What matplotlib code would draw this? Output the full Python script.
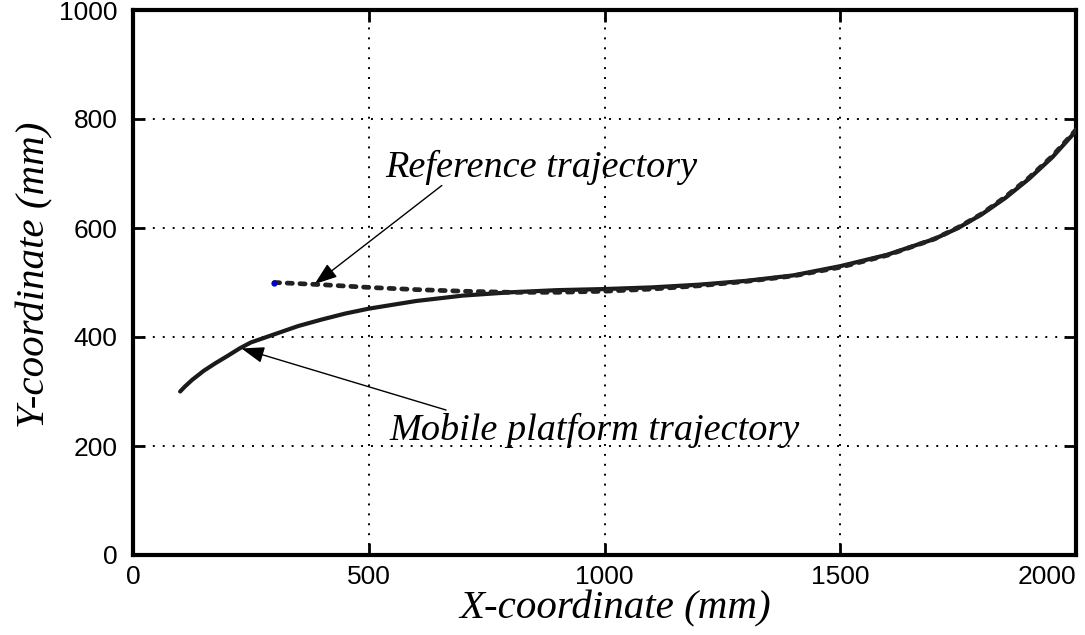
import matplotlib
matplotlib.use("Agg")
import matplotlib.pyplot as plt

# ---- data (mm) ----
platform_x = [100, 110, 125, 150, 175, 200, 226, 250, 300, 350, 400, 450, 500, 600, 700, 800,
              900, 1000, 1100, 1200, 1300, 1400, 1500, 1600, 1700, 1750, 1800, 1850, 1900, 1950, 2000]
platform_y = [300, 309, 321, 338, 352, 365, 379, 390, 405, 420, 432, 443, 452, 466, 476, 482,
              486, 488, 491, 496, 503, 513, 530, 551, 580, 600, 625, 655, 690, 730, 778]

reference_x = [300, 400, 500, 600, 700, 800, 900, 1000, 1100, 1200, 1300, 1400, 1500, 1600,
               1700, 1750, 1800, 1850, 1900, 1950, 2000]
reference_y = [500, 496, 491, 487, 484, 482, 482, 484, 488, 494, 502, 512, 528, 550,
               580, 601, 626, 657, 692, 732, 780]

x_ticks = [0, 500, 1000, 1500, 2000]
y_ticks = [0, 200, 400, 600, 800, 1000]

fig = plt.figure(figsize=(10.85, 6.35), dpi=100)
ax = fig.add_axes([133/1085, 80/635, (1076-133)/1085, (555-10)/635])

serif = ["Liberation Serif", "DejaVu Serif"]
sans = ["Liberation Sans", "DejaVu Sans"]

ax.plot(platform_x, platform_y, color="#1a1a1a", lw=3.0, solid_capstyle="round", zorder=3)
ax.plot(reference_x, reference_y, color="#222222", lw=3.4, linestyle=(0, (1.1, 1.6)),
        dash_capstyle="round", zorder=4)
ax.plot([reference_x[0]], [reference_y[0]], marker="o", ms=3.5, color="#0000cc", zorder=5)

ax.set_xlim(0, 2000)
ax.set_ylim(0, 1000)
ax.set_xticks(x_ticks)
ax.set_yticks(y_ticks)
ax.set_xticklabels([str(v) for v in x_ticks], fontfamily=sans, fontsize=19)
ax.set_yticklabels([str(v) for v in y_ticks], fontfamily=sans, fontsize=19)
ax.get_xticklabels()[-1].set_horizontalalignment("right")

ax.tick_params(direction="in", length=8.5, width=2, top=True, right=True)
ax.tick_params(axis="x", pad=7)
ax.tick_params(axis="y", pad=11)

for s in ax.spines.values():
    s.set_linewidth(3.0)

ax.grid(True, color="black", linestyle=(0, (1, 4.1)), linewidth=1.4)
ax.set_axisbelow(True)

ax.set_xlabel("X-coordinate (mm)", fontfamily=serif, fontstyle="italic", fontsize=29.5)
ax.set_ylabel("Y-coordinate (mm)", fontfamily=serif, fontstyle="italic", fontsize=29.5)
ax.xaxis.set_label_coords((615-133)/943, -(609-555)/545)
ax.yaxis.set_label_coords(-(133-35)/943, (555-275)/545)
ax.xaxis.label.set_verticalalignment("center")
ax.yaxis.label.set_verticalalignment("center")

arrow = dict(arrowstyle="-|>,head_length=1.4,head_width=0.5", color="black", lw=1.0,
             shrinkA=0, shrinkB=0)
ax.annotate("", xy=(385, 497), xytext=(655, 678), arrowprops=arrow)
ax.annotate("", xy=(230, 379), xytext=(664, 266), arrowprops=arrow)

ax.text(535, 693, "Reference trajectory", fontfamily=serif, fontstyle="italic", fontsize=27.5,
        ha="left", va="baseline")
ax.text(543, 211, "Mobile platform trajectory", fontfamily=serif, fontstyle="italic", fontsize=27.5,
        ha="left", va="baseline")

fig.savefig("out.png", dpi=100)
